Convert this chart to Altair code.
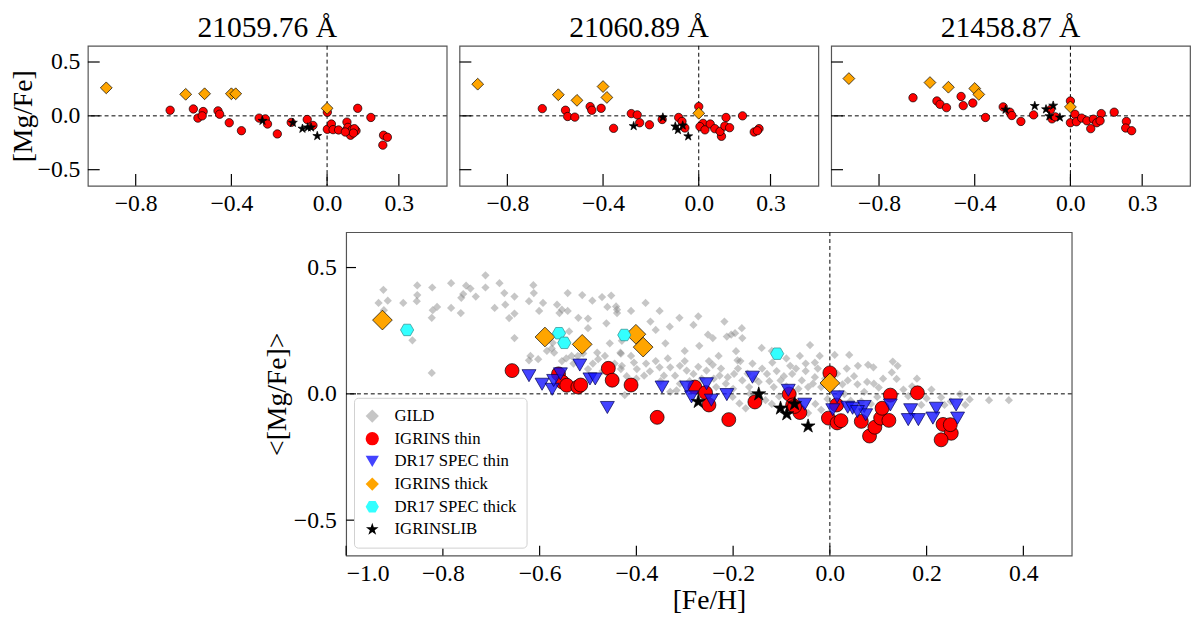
import altair as alt
import pandas as pd

FONT = "Liberation Serif"

# ---- top panels: [Mg/Fe] per Mg I line ----
line_titles = ["21059.76 Å", "21060.89 Å", "21458.87 Å"]

l1_thin_feh = [-0.656, -0.559, -0.540, -0.518, -0.522, -0.456, -0.449, -0.409, -0.358, -0.284, -0.258, -0.249,
               -0.208, -0.150, -0.083, -0.059, 0.001, 0.001, 0.018, 0.025, 0.048, 0.080, 0.083, 0.087, 0.098,
               0.105, 0.121, 0.128, 0.114, 0.110, 0.183, 0.236, 0.252, 0.233, 0.076]
l1_thin_mgfe = [0.052, 0.064, -0.021, 0.040, 0.000, 0.046, 0.015, -0.064, -0.138, -0.021, -0.028, -0.076,
                -0.168, -0.061, -0.034, -0.089, 0.034, -0.125, -0.076, -0.128, -0.131, -0.138, -0.058, -0.107,
                -0.180, -0.128, -0.138, 0.070, -0.119, -0.160, -0.015, -0.180, -0.199, -0.272, -0.150]
l1_thick_feh = [-0.923, -0.591, -0.512, -0.400, -0.382, 0.000]
l1_thick_mgfe = [0.260, 0.200, 0.205, 0.205, 0.205, 0.070]
l1_lib_feh = [-0.270, -0.143, -0.103, -0.081, -0.067, -0.041]
l1_lib_mgfe = [-0.046, -0.064, -0.119, -0.107, -0.107, -0.187]

l2_thin_feh = [-0.654, -0.557, -0.548, -0.518, -0.454, -0.447, -0.408, -0.356, -0.282, -0.257, -0.247, -0.206,
               -0.153, -0.084, -0.070, -0.058, 0.000, 0.018, 0.005, 0.026, 0.048, 0.067, 0.095, 0.089, 0.109,
               0.114, 0.129, 0.183, 0.232, 0.252, 0.245]
l2_thin_mgfe = [0.067, 0.052, -0.006, -0.012, 0.086, 0.052, 0.070, -0.116, 0.021, 0.009, -0.064, -0.083,
                -0.034, -0.015, -0.052, -0.113, 0.086, -0.070, -0.100, -0.130, -0.076, -0.119, -0.190, -0.144,
                -0.095, -0.015, -0.110, 0.000, -0.150, -0.119, -0.138]
l2_thick_feh = [-0.924, -0.587, -0.509, -0.400, -0.384, 0.000]
l2_thick_mgfe = [0.294, 0.196, 0.144, 0.272, 0.171, 0.024]
l2_lib_feh = [-0.272, -0.150, -0.098, -0.087, -0.067, -0.044]
l2_lib_mgfe = [-0.095, -0.015, -0.098, -0.131, -0.089, -0.190]

l3_thin_feh = [-0.658, -0.558, -0.545, -0.518, -0.457, -0.448, -0.408, -0.355, -0.281, -0.253, -0.245, -0.207,
               -0.154, -0.083, -0.077, -0.063, 0.000, 0.019, 0.000, 0.025, 0.047, 0.069, 0.085, 0.096, 0.110,
               0.129, 0.124, 0.183, 0.234, 0.231, 0.256]
l3_thin_mgfe = [0.168, 0.138, 0.107, 0.076, 0.180, 0.095, 0.119, -0.015, 0.083, 0.034, 0.003, -0.052,
                0.009, 0.058, -0.028, -0.009, 0.138, 0.015, -0.064, -0.055, -0.021, -0.046, -0.119, -0.031,
                -0.064, 0.021, -0.046, 0.034, -0.052, -0.113, -0.138]
l3_thick_feh = [-0.926, -0.587, -0.510, -0.400, -0.383, 0.000]
l3_thick_mgfe = [0.346, 0.309, 0.266, 0.254, 0.199, 0.083]
l3_lib_feh = [-0.271, -0.149, -0.102, -0.072, -0.088, -0.044]
l3_lib_mgfe = [0.058, 0.092, 0.061, 0.095, -0.003, -0.015]

# ---- bottom panel: mean [Mg/Fe] ----
gild_feh = [-0.923, -0.933, -0.914, -0.922, -0.863, -0.882, -0.853, -0.853, -0.854, -0.822, -0.821, -0.823,
            -0.812, -0.823, -0.783, -0.783, -0.763, -0.752, -0.758, -0.762, -0.743, -0.732, -0.712, -0.712,
            -0.693, -0.683, -0.673, -0.671, -0.663, -0.652, -0.652, -0.652, -0.622, -0.613, -0.612, -0.601,
            -0.593, -0.619, -0.622, -0.603, -0.573, -0.564, -0.559, -0.554, -0.542, -0.542, -0.539, -0.570,
            -0.554, -0.520, -0.512, -0.500, -0.491, -0.500, -0.481, -0.479, -0.471, -0.460, -0.462, -0.452,
            -0.442, -0.440, -0.433, -0.432, -0.424, -0.521, -0.585, -0.545, -0.530, -0.510, -0.490, -0.465,
            -0.470, -0.445, -0.455, -0.575, -0.534, -0.500,
            -0.440, -0.411, -0.381, -0.352, -0.371, -0.331, -0.311, -0.272, -0.282, -0.218, -0.182, -0.204,
            -0.252, -0.242, -0.196, -0.213, -0.181, -0.360, -0.141, -0.041, -0.194, -0.191, -0.119, -0.082,
            -0.062, -0.031, -0.021, -0.432, -0.430, -0.411, -0.405,
            -0.399, -0.384, -0.372, -0.352, -0.343, -0.330, -0.320, -0.310, -0.296, -0.282, -0.272, -0.255,
            -0.242, -0.228, -0.211, -0.198, -0.181, -0.167, -0.147, -0.130, -0.116, -0.102, -0.078, -0.058,
            -0.045, -0.031, -0.018, -0.201, -0.187, -0.174, -0.133, -0.045, -0.018, -0.235, -0.317, -0.330,
            -0.360, -0.335, -0.300, -0.290, -0.265, -0.250, -0.225, -0.215, -0.190, -0.170, -0.160, -0.155,
            -0.140, -0.125, -0.110, -0.095, -0.090, -0.070, -0.065, -0.050, -0.035, -0.025, -0.010, -0.005,
            -0.105, -0.120, -0.150, -0.165, -0.080, -0.060, -0.030, -0.380, -0.350, -0.310, -0.270, -0.240,
            -0.200, -0.185, -0.400, -0.420, -0.430, -0.390, -0.340, -0.300, -0.270, -0.230, -0.120, -0.090,
            -0.050,
            0.010, 0.040, 0.058, 0.079, 0.090, 0.130, 0.140, 0.128, 0.138, 0.037, 0.026, 0.057, 0.077, 0.091,
            0.101, 0.071, 0.030, 0.152, 0.162, 0.210, 0.200, 0.230, 0.189, 0.237, 0.269, 0.280, 0.289, 0.329,
            0.370, 0.098, 0.043, 0.003, 0.015, 0.020, 0.050, 0.065, 0.110, 0.120, 0.170, 0.180, 0.035, 0.005,
            0.085, 0.250]
gild_mgfe = [0.412, 0.360, 0.369, 0.331, 0.212, 0.360, 0.429, 0.391, 0.367, 0.421, 0.331, 0.301,
             0.344, 0.083, 0.438, 0.340, 0.320, 0.428, 0.395, 0.380, 0.417, 0.385, 0.469, 0.421,
             0.340, 0.438, 0.399, 0.353, 0.300, 0.318, 0.385, 0.221, 0.367, 0.430, 0.399, 0.328,
             0.360, 0.150, 0.133, 0.137, 0.202, 0.353, 0.320, 0.333, 0.399, 0.328, 0.247, 0.163,
             0.130, 0.301, 0.391, 0.298, 0.369, 0.260, 0.163, 0.137, 0.383, 0.344, 0.279, 0.389,
             0.346, 0.320, 0.163, 0.098, -0.005, 0.150, 0.170, 0.140, 0.120, 0.160, 0.120, 0.150,
             0.090, 0.120, 0.200, 0.180, 0.150, 0.098,
             0.333, 0.328, 0.360, 0.328, 0.286, 0.266, 0.301, 0.307, 0.273, 0.286, 0.260, 0.234,
             0.234, 0.221, 0.240, 0.227, 0.221, 0.253, 0.182, 0.193, 0.169, 0.133, 0.124, 0.111,
             0.150, 0.124, 0.150, 0.159, 0.111, 0.150, 0.124,
             0.098, 0.072, 0.089, 0.105, 0.072, 0.105, 0.072, 0.111, 0.092, 0.079, 0.107, 0.092,
             0.115, 0.072, 0.066, 0.079, 0.053, 0.027, 0.047, 0.079, 0.027, 0.053, 0.079, 0.053,
             0.027, 0.066, 0.027, -0.012, -0.038, -0.057, -0.025, -0.076, -0.063, 0.027, 0.014, 0.008,
             0.130, 0.140, 0.130, 0.050, 0.060, 0.130, 0.100, 0.040, 0.100, 0.080, 0.120, 0.060,
             0.100, 0.050, 0.090, 0.070, 0.030, 0.100, 0.020, 0.090, 0.040, 0.100, 0.060, -0.020,
             -0.010, -0.040, -0.010, 0.000, -0.030, -0.050, -0.040, 0.120, 0.050, 0.040, 0.020, 0.060,
             0.020, 0.130, 0.060, 0.070, 0.210, 0.190, 0.200, 0.170, 0.190, 0.150, 0.170, 0.140,
             0.120,
             0.154, 0.154, 0.111, 0.115, 0.105, 0.128, 0.111, 0.085, 0.059, 0.053, 0.038, 0.038, 0.047, 0.040,
             0.025, 0.008, -0.001, 0.017, -0.009, 0.017, -0.018, -0.014, -0.044, -0.044, -0.001, -0.044, -0.022,
             -0.025, -0.025, -0.012, -0.027, 0.021, 0.080, 0.000, 0.070, -0.030, 0.060, -0.010, 0.030, 0.060,
             0.100, -0.050, -0.040, -0.030]

thin_feh = [-0.657, -0.561, -0.553, -0.544, -0.521, -0.515, -0.458, -0.450, -0.411, -0.357, -0.279, -0.257,
            -0.250, -0.209, -0.155, -0.084, -0.077, -0.062, -0.073, 0.000, 0.014, -0.003, 0.015, 0.023, 0.065,
            0.082, 0.093, 0.105, 0.122, 0.125, 0.108, 0.181, 0.234, 0.251, 0.230, 0.249]
thin_mgfe = [0.092, 0.079, 0.047, 0.034, 0.027, 0.035, 0.101, 0.054, 0.035, -0.093, 0.027, 0.005,
             -0.044, -0.102, -0.032, -0.001, -0.044, -0.074, -0.050, 0.083, -0.044, -0.096, -0.115, -0.106,
             -0.109, -0.167, -0.132, -0.096, -0.105, -0.005, -0.057, 0.004, -0.121, -0.156, -0.182, -0.122]

dr17_thin_feh = [-0.622, -0.595, -0.574, -0.571, -0.557, -0.517, -0.496, -0.485, -0.460, -0.347, -0.296,
                 -0.286, -0.255, -0.245, -0.213, -0.160, -0.086, -0.052, 0.015, 0.006, 0.037, 0.047, 0.071,
                 0.074, 0.057, 0.125, 0.167, 0.162, 0.183, 0.220, 0.213, 0.261, 0.264]
dr17_thin_mgfe = [0.072, 0.038, 0.018, 0.053, 0.079, 0.114, 0.059, 0.059, -0.054, 0.027, 0.027,
                  -0.012, 0.040, -0.025, -0.003, 0.066, 0.014, -0.041, -0.012, -0.063, -0.053, -0.057, -0.050,
                  -0.083, -0.070, -0.044, -0.063, -0.102, -0.102, -0.057, -0.096, -0.044, -0.096]

thick_feh = [-0.925, -0.589, -0.512, -0.401, -0.386, 0.000]
thick_mgfe = [0.292, 0.225, 0.196, 0.236, 0.185, 0.043]

dr17_thick_feh = [-0.874, -0.560, -0.549, -0.425, -0.109]
dr17_thick_mgfe = [0.253, 0.240, 0.202, 0.233, 0.159]

lib_feh = [-0.272, -0.147, -0.102, -0.089, -0.073, -0.045]
lib_mgfe = [-0.031, -0.001, -0.057, -0.080, -0.040, -0.128]

# series styles (vega has no built-in hexagon or star, so those are svg paths)
HEX = "M-1,0L-0.5,-0.866L0.5,-0.866L1,0L0.5,0.866L-0.5,0.866Z"
STAR = ("M0,-1L0.225,-0.309L0.951,-0.309L0.363,0.118L0.588,0.809L0,0.382L-0.588,0.809"
        "L-0.363,0.118L-0.951,-0.309L-0.225,-0.309Z")
series_names = ["GILD", "IGRINS thin", "DR17 SPEC thin", "IGRINS thick", "DR17 SPEC thick", "IGRINSLIB"]
series_fill = ["rgba(128,128,128,0.45)", "#ff0000", "rgba(20,20,255,0.8)", "#ffa500", "#33ffff", "#000000"]
series_edge = ["rgba(0,0,0,0)", "#000000", "#000050", "#000000", "#2e8b8b", "#000000"]
series_shape = ["diamond", "circle", "triangle-down", "diamond", HEX, STAR]
big_size = [70, 200, 200, 400, 180, 220]
small_size = [70, 72, 72, 144, 72, 90]

color_scale = alt.Scale(domain=series_names, range=series_fill)
shape_scale = alt.Scale(domain=series_names, range=series_shape)


def series_layer(name, xs, ys, xscale, yscale, xaxis, yaxis, sizes, legend):
    k = series_names.index(name)
    df = pd.DataFrame({"feh": xs, "mgfe": ys, "series": name})
    enc = dict(x=alt.X("feh:Q", scale=xscale, axis=xaxis), y=alt.Y("mgfe:Q", scale=yscale, axis=yaxis))
    if legend is None:
        return alt.Chart(df).mark_point(filled=True, opacity=1, size=sizes[k], stroke=series_edge[k],
                                        strokeWidth=0.7, fill=series_fill[k],
                                        shape=series_shape[k]).encode(**enc)
    return alt.Chart(df).mark_point(filled=True, opacity=1, size=sizes[k], stroke=series_edge[k],
                                    strokeWidth=0.7).encode(
        color=alt.Color("series:N", scale=color_scale, legend=legend),
        shape=alt.Shape("series:N", scale=shape_scale, legend=legend),
        **enc)


def guides(xscale, yscale, xaxis, yaxis, xticks, yticks, h, tick_len):
    # dashed zero lines and inward ticks; same axis objects so the layer keeps its axes
    zero = pd.DataFrame({"v": [0.0]})
    hline = alt.Chart(zero).mark_rule(color="black", strokeDash=[4, 3], strokeWidth=1).encode(
        y=alt.Y("v:Q", scale=yscale, axis=yaxis))
    vline = alt.Chart(zero).mark_rule(color="black", strokeDash=[4, 3], strokeWidth=1).encode(
        x=alt.X("v:Q", scale=xscale, axis=xaxis))
    xt = alt.Chart(pd.DataFrame({"t": xticks})).mark_rule(color="black", strokeWidth=1.2).encode(
        x=alt.X("t:Q", scale=xscale, axis=xaxis), y=alt.value(h), y2=alt.value(h - tick_len))
    yt = alt.Chart(pd.DataFrame({"t": yticks})).mark_rule(color="black", strokeWidth=1.2).encode(
        y=alt.Y("t:Q", scale=yscale, axis=yaxis), x=alt.value(0), x2=alt.value(tick_len))
    return hline, vline, xt, yt


top_xticks = [-0.8, -0.4, 0.0, 0.3]
top_yticks = [-0.5, 0.0, 0.5]
TW, TH = 364, 142
txs = alt.Scale(domain=[-1.0, 0.5], nice=False, zero=False)
tys = alt.Scale(domain=[-0.65, 0.65], nice=False, zero=False)

top_data = [
    (l1_thin_feh, l1_thin_mgfe, l1_thick_feh, l1_thick_mgfe, l1_lib_feh, l1_lib_mgfe),
    (l2_thin_feh, l2_thin_mgfe, l2_thick_feh, l2_thick_mgfe, l2_lib_feh, l2_lib_mgfe),
    (l3_thin_feh, l3_thin_mgfe, l3_thick_feh, l3_thick_mgfe, l3_lib_feh, l3_lib_mgfe),
]

panels = []
for i, (a, b, c, d, e, f) in enumerate(top_data):
    xaxis = alt.Axis(values=top_xticks, format=".1f", ticks=False, domain=False, grid=False,
                     labelFontSize=24, labelPadding=6, title=None)
    if i == 0:
        yaxis = alt.Axis(values=top_yticks, format=".1f", ticks=False, domain=False, grid=False,
                         labelFontSize=24, labelPadding=8, title="[Mg/Fe]", titleFontSize=28,
                         titlePadding=0)
    else:
        yaxis = None
    hl, vl, xt, yt = guides(txs, tys, xaxis, yaxis, top_xticks, top_yticks, TH, 12)
    layers = [hl, vl,
              series_layer("IGRINS thin", a, b, txs, tys, xaxis, yaxis, small_size, None),
              series_layer("IGRINS thick", c, d, txs, tys, xaxis, yaxis, small_size, None),
              series_layer("IGRINSLIB", e, f, txs, tys, xaxis, yaxis, small_size, None),
              xt, yt]
    panels.append(alt.layer(*layers).properties(
        width=TW, height=TH,
        title=alt.Title(line_titles[i], font=FONT, fontSize=30, fontWeight="normal", frame="group", offset=2),
    ))

top_row = alt.hconcat(*panels, spacing=9)

# bottom panel
BW, BH = 736, 328
bxs = alt.Scale(domain=[-1.0, 0.5], nice=False, zero=False)
bys = alt.Scale(domain=[-0.64, 0.64], nice=False, zero=False)
bottom_xticks = [-1.0, -0.8, -0.6, -0.4, -0.2, 0.0, 0.2, 0.4]
bottom_yticks = [-0.5, 0.0, 0.5]

legend = alt.Legend(title=None, orient="bottom-left", offset=8, padding=10, strokeColor="#d0d0d0",
                    fillColor="white", cornerRadius=4, labelFont=FONT, labelFontSize=17,
                    rowPadding=5, labelOffset=14, symbolSize=180, symbolStrokeColor="black",
                    symbolStrokeWidth=0.7, symbolOpacity=1)
bxaxis = alt.Axis(values=bottom_xticks, format=".1f", ticks=False, domain=False, grid=False,
                  labelFontSize=24, labelPadding=6, title="[Fe/H]", titleFontSize=28, titlePadding=2)
byaxis = alt.Axis(values=bottom_yticks, format=".1f", ticks=False, domain=False, grid=False,
                  labelFontSize=24, labelPadding=10, title="<[Mg/Fe]>", titleFontSize=28, titlePadding=2)
bh, bv, bxt, byt = guides(bxs, bys, bxaxis, byaxis, bottom_xticks, bottom_yticks, BH, 10)
bottom_series = [
    ("GILD", gild_feh, gild_mgfe),
    ("IGRINS thin", thin_feh, thin_mgfe),
    ("DR17 SPEC thin", dr17_thin_feh, dr17_thin_mgfe),
    ("IGRINS thick", thick_feh, thick_mgfe),
    ("DR17 SPEC thick", dr17_thick_feh, dr17_thick_mgfe),
    ("IGRINSLIB", lib_feh, lib_mgfe),
]
blayers = [bh, bv] + [series_layer(n, xs, ys, bxs, bys, bxaxis, byaxis, big_size, legend)
                      for n, xs, ys in bottom_series] + [bxt, byt]
bottom = alt.layer(*blayers).properties(width=BW, height=BH)

spacer = alt.Chart(pd.DataFrame({"v": [0]})).mark_point(opacity=0).encode(
    x=alt.X("v:Q", axis=None), y=alt.Y("v:Q", axis=None)
).properties(width=176, height=20, view=alt.ViewBackground(stroke="transparent"))

bottom_row = alt.hconcat(spacer, bottom, spacing=0).resolve_scale(color="independent", shape="independent")

chart = alt.vconcat(top_row, bottom_row, spacing=14).resolve_scale(
    color="independent", shape="independent"
).properties(padding=0).configure_axis(
    labelFont=FONT, titleFont=FONT, labelColor="black", titleColor="black", titleFontWeight="normal"
).configure_view(stroke="#555555", strokeWidth=1.2)

chart.save("out.html", embed_options={"renderer": "svg", "actions": False})
